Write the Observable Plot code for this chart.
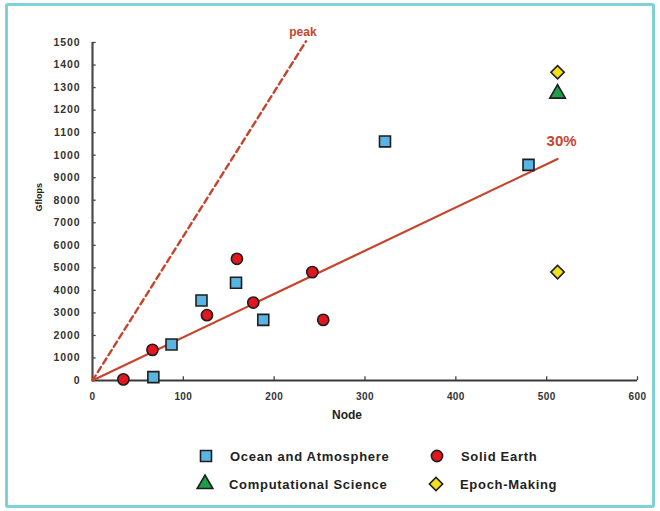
<!DOCTYPE html>
<html>
<head>
<meta charset="utf-8">
<script src="https://cdn.jsdelivr.net/npm/d3@7"></script>
<script src="https://cdn.jsdelivr.net/npm/@observablehq/plot@0.6"></script>
<style>
  html, body { margin: 0; padding: 0; background: #fff; }
  #page { position: relative; width: 660px; height: 511px; overflow: hidden; font-family: "Liberation Sans", Arial, sans-serif; }
  #border { position: absolute; left: 5px; top: 3px; width: 644px; height: 499px; border: 3px solid #7fd0d7; border-radius: 3px; }
  #chart { position: absolute; left: 0; top: 0; }
  #chart svg [aria-label="y-axis tick label"] text { letter-spacing: 0.9px; }
  #chart svg [aria-label="x-axis tick label"] text { letter-spacing: 0.4px; }
  .lg { position: absolute; display: flex; align-items: center; font-size: 13px; font-weight: bold; color: #222; letter-spacing: 0.7px; white-space: nowrap; }
  .lg svg { position: absolute; }
</style>
</head>
<body>
<div id="page">
  <div id="border"></div>
  <div id="chart"></div>
  <div id="legend"></div>
</div>
<script>
// ---- data ----
const oceanNodes  = [67, 87, 120, 158, 188, 322, 480];
const oceanGflops = [150, 1600, 3550, 4340, 2690, 10610, 9570];

const earthNodes  = [34, 66, 126, 159, 177, 242, 254];
const earthGflops = [50, 1360, 2900, 5400, 3460, 4810, 2690];

const compNodes  = [512];
const compGflops = [12730];

const epochNodes  = [512, 512];
const epochGflops = [13680, 4810];

const peakNodes  = [0, 235];
const peakGflops = [0, 15050];

const effNodes  = [0, 512];
const effGflops = [0, 9830];

const xTicks = [0, 100, 200, 300, 400, 500, 600];
const yTickValues = [0, 1000, 2000, 3000, 4000, 5000, 6000, 7000, 8000, 9000, 10000, 11000, 12000, 13000, 14000, 15000];
const yTickLabels = ["0", "1000", "2000", "3000", "4000", "5000", "6000", "7000", "8000", "9000", "1000", "1100", "1200", "1300", "1400", "1500"];

const seriesNames = ["Ocean and Atmosphere", "Solid Earth", "Computational Science", "Epoch-Making"];
const lineLabels = ["peak", "30%"];

// ---- build ----
const zip = (xs, ys) => xs.map((x, i) => ({x, y: ys[i]}));
const ocean = zip(oceanNodes, oceanGflops);
const earth = zip(earthNodes, earthGflops);
const comp = zip(compNodes, compGflops);
const epoch = zip(epochNodes, epochGflops);
const peak = zip(peakNodes, peakGflops);
const eff = zip(effNodes, effGflops);

const lineColor = "#c8432b";
const styles = {
  "Ocean and Atmosphere": {symbol: "square", r: 6.2, fill: "#5ab4e3", rotate: 0},
  "Solid Earth": {symbol: "circle", r: 5.6, fill: "#e2161e", rotate: 0},
  "Computational Science": {symbol: "triangle", r: 5.8, fill: "#1c9e4a", rotate: 0},
  "Epoch-Making": {symbol: "square", r: 5.3, fill: "#f3e01c", rotate: 45}
};
const dotOpts = (name) => ({x: "x", y: "y", symbol: styles[name].symbol, r: styles[name].r, fill: styles[name].fill, rotate: styles[name].rotate, stroke: "#1e1e1e", strokeWidth: 1.6});

const chart = Plot.plot({
  width: 660,
  height: 430,
  marginLeft: 92,
  marginRight: 23,
  marginTop: 42,
  marginBottom: 50,
  style: {fontFamily: "'Liberation Sans', Arial, sans-serif", background: "transparent", color: "#333"},
  x: {domain: [0, 600]},
  y: {domain: [0, 15000]},
  marks: [
    Plot.axisX(xTicks, {tickSize: 0, tickPadding: 12, fontSize: 10, fontWeight: "bold", fill: "#333", label: null}),
    Plot.axisY(yTickValues, {tickSize: 0, tickPadding: 12, fontSize: 10.5, fontWeight: "bold", fill: "#333", label: null,
      tickFormat: d => yTickLabels[yTickValues.indexOf(d)]}),
    Plot.ruleY(yTickValues, {y: d => d, x1: 0, x2: 4, stroke: "#444", strokeWidth: 1.3}),
    Plot.ruleX(xTicks, {x: d => d, y1: 0, y2: 170, stroke: "#444", strokeWidth: 1.3}),
    Plot.ruleX([0], {y1: 0, y2: 15000, stroke: "#4a4a4a", strokeWidth: 2.2}),
    Plot.ruleY([0], {x1: 0, x2: 600, stroke: "#3a3a3a", strokeWidth: 2.2}),
    Plot.line(peak, {x: "x", y: "y", stroke: lineColor, strokeWidth: 2.4, strokeDasharray: "6,4"}),
    Plot.line(eff, {x: "x", y: "y", stroke: lineColor, strokeWidth: 2.2}),
    Plot.text([peak[1]], {x: "x", y: "y", text: () => lineLabels[0], dx: -3, dy: -9, fontSize: 12, fontWeight: "bold", fill: "#c9442e"}),
    Plot.text([eff[1]], {x: "x", y: "y", text: () => lineLabels[1], dx: 4, dy: -18, fontSize: 15, fontWeight: "bold", fill: "#c9442e"}),
    Plot.dot(earth, dotOpts("Solid Earth")),
    Plot.dot(ocean, dotOpts("Ocean and Atmosphere")),
    Plot.dot(comp, dotOpts("Computational Science")),
    Plot.dot(epoch, dotOpts("Epoch-Making")),
    Plot.text(["Node"], {frameAnchor: "bottom", text: d => d, dx: -18, dy: 38, fontSize: 12, fontWeight: "bold", fill: "#222"}),
    Plot.text(["Gflops"], {frameAnchor: "left", text: d => d, rotate: -90, dx: -53, fontSize: 9, fontWeight: "bold", fill: "#222"})
  ]
});
document.getElementById("chart").appendChild(chart);

// ---- legend ----
const legendPos = [
  {left: 199, top: 456}, {left: 430, top: 456},
  {left: 198, top: 484}, {left: 429, top: 484}
];
const legend = document.getElementById("legend");
seriesNames.forEach((name, i) => {
  const s = styles[name];
  const item = document.createElement("div");
  item.className = "lg";
  item.style.left = legendPos[i].left + "px";
  item.style.top = (legendPos[i].top - 9) + "px";
  item.style.height = "18px";
  const sym = d3.symbol().type({square: d3.symbolSquare, circle: d3.symbolCircle, triangle: d3.symbolTriangle}[s.symbol]).size(Math.PI * s.r * s.r)();
  item.innerHTML = `<svg width="16" height="18" style="left:0;top:0;overflow:visible"><path d="${sym}" transform="translate(7,9) rotate(${s.rotate})" fill="${s.fill}" stroke="#1e1e1e" stroke-width="1.6"/></svg><span style="margin-left:31px">${name}</span>`;
  legend.appendChild(item);
});
</script>
</body>
</html>
